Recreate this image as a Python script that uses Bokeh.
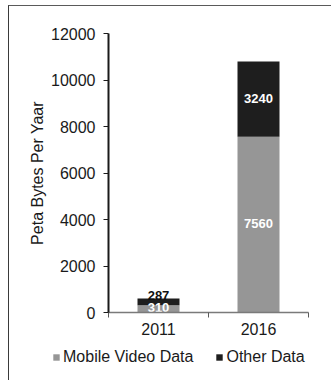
from bokeh.plotting import figure
from bokeh.layouts import column
from bokeh.models import (ColumnDataSource, Range1d, FixedTicker, Legend, LegendItem)
from bokeh.core.properties import value
from bokeh.embed import file_html
from bokeh.resources import INLINE

# Yearly traffic, stacked by kind of data
years = ["2011", "2016"]
mobile_video = [310, 7560]
other_data = [287, 3240]
series_names = ["Mobile Video Data", "Other Data"]
series_colors = ["#969696", "#1e1e1e"]
y_ticks = [0, 2000, 4000, 6000, 8000, 10000, 12000]

FONT = "Liberation Sans"

# each year occupies one unit slot on the x axis; bars sit at slot centres
centres = [i + 0.5 for i in range(len(years))]
edges = list(range(len(years) + 1))

source = ColumnDataSource(data=dict(x=centres, mobile=mobile_video, other=other_data))

p = figure(
    x_range=Range1d(0, len(years)),
    y_range=Range1d(0, 12000),
    width=322, height=339,
    min_border_left=99, min_border_right=23,
    min_border_top=27, min_border_bottom=33,
    output_backend="svg", toolbar_location=None,
)
p.frame_align = False
p.outline_line_color = None
p.grid.visible = False
p.background_fill_color = "white"
p.border_fill_color = "white"

p.vbar_stack(["mobile", "other"], x="x", width=0.42,
             color=series_colors, line_color=None, source=source)

# Value labels: middle of each segment, or just above the stack when the segment is thin
lab_x, lab_y, lab_text, lab_color, lab_base, lab_off = [], [], [], [], [], []
for cx, m, o in zip(centres, mobile_video, other_data):
    lab_x.append(cx); lab_y.append(m / 2); lab_text.append(str(m))
    lab_color.append("#ffffff"); lab_base.append("middle"); lab_off.append(-1)
    if o >= 1000:
        lab_x.append(cx); lab_y.append(m + o / 2); lab_text.append(str(o))
        lab_color.append("#ffffff"); lab_base.append("middle"); lab_off.append(-1)
    else:
        lab_x.append(cx); lab_y.append(m + o); lab_text.append(str(o))
        lab_color.append("#111111"); lab_base.append("alphabetic"); lab_off.append(-3)
labels = ColumnDataSource(data=dict(x=lab_x, y=lab_y, text=lab_text,
                                    color=lab_color, base=lab_base, off=lab_off))
p.text(x="x", y="y", text="text", source=labels, text_align="center",
       text_baseline="base", text_color="color", text_font=value(FONT),
       text_font_size="13px", text_font_style="bold", y_offset="off")

# y axis
yax = p.yaxis[0]
yax.ticker = FixedTicker(ticks=y_ticks)
yax.axis_label = "Peta Bytes Per Yaar"
yax.axis_label_text_font = FONT
yax.axis_label_text_font_size = "16px"
yax.axis_label_text_font_style = "normal"
yax.axis_label_text_color = "#1a1a1a"
yax.axis_label_standoff = 2
yax.major_label_text_font = FONT
yax.major_label_text_font_size = "16px"
yax.major_label_text_color = "#1a1a1a"
yax.major_label_standoff = 8
yax.axis_line_color = "#1a1a1a"
yax.axis_line_width = 2
yax.major_tick_line_color = "#1a1a1a"
yax.major_tick_out = 5
yax.major_tick_in = 0
yax.minor_tick_line_color = None

# x axis: tick marks on slot edges, year labels on slot centres
xax = p.xaxis[0]
xax.ticker = FixedTicker(ticks=centres, minor_ticks=edges)
xax.major_label_overrides = {c: y for c, y in zip(centres, years)}
xax.axis_line_color = "#7a7a7a"
xax.axis_line_width = 1.5
xax.major_tick_line_color = None
xax.major_tick_out = 0
xax.major_tick_in = 0
xax.minor_tick_line_color = "#5a5a5a"
xax.minor_tick_out = 5
xax.minor_tick_in = 0
xax.major_label_text_font = FONT
xax.major_label_text_font_size = "16px"
xax.major_label_text_color = "#1a1a1a"
xax.major_label_standoff = 5

# legend strip underneath the chart, with one flat swatch renderer per series
leg = figure(
    x_range=Range1d(0, 1), y_range=Range1d(0, 1),
    width=322, height=35, min_border=0,
    x_axis_location=None, y_axis_location=None,
    output_backend="svg", toolbar_location=None,
)
leg.frame_align = False
leg.outline_line_color = None
leg.grid.visible = False
swatches = [leg.vbar(x=[0.5], top=[0], bottom=[0], width=0.1, color=c, line_color=None)
            for c in series_colors]
legend = Legend(
    items=[LegendItem(label=n, renderers=[r]) for n, r in zip(series_names, swatches)],
    orientation="horizontal",
    location=(43, 14),
    padding=0, margin=0, spacing=22,
    glyph_width=8, glyph_height=8, label_standoff=3, label_height=16,
    label_text_font=FONT, label_text_font_size="16px", label_text_color="#1a1a1a",
    border_line_color=None, background_fill_alpha=0,
)
leg.add_layout(legend)

page = column(p, leg, spacing=0)
page.margin = (5, 0, 0, 8)
page.styles = {"border-top": "1px solid #5a5a5a", "border-left": "1px solid #3a3a3a"}

html = file_html(page, INLINE)
html = html.replace("<body>", '<body style="margin:0;overflow:hidden">', 1)
open("out.html", "w").write(html)
